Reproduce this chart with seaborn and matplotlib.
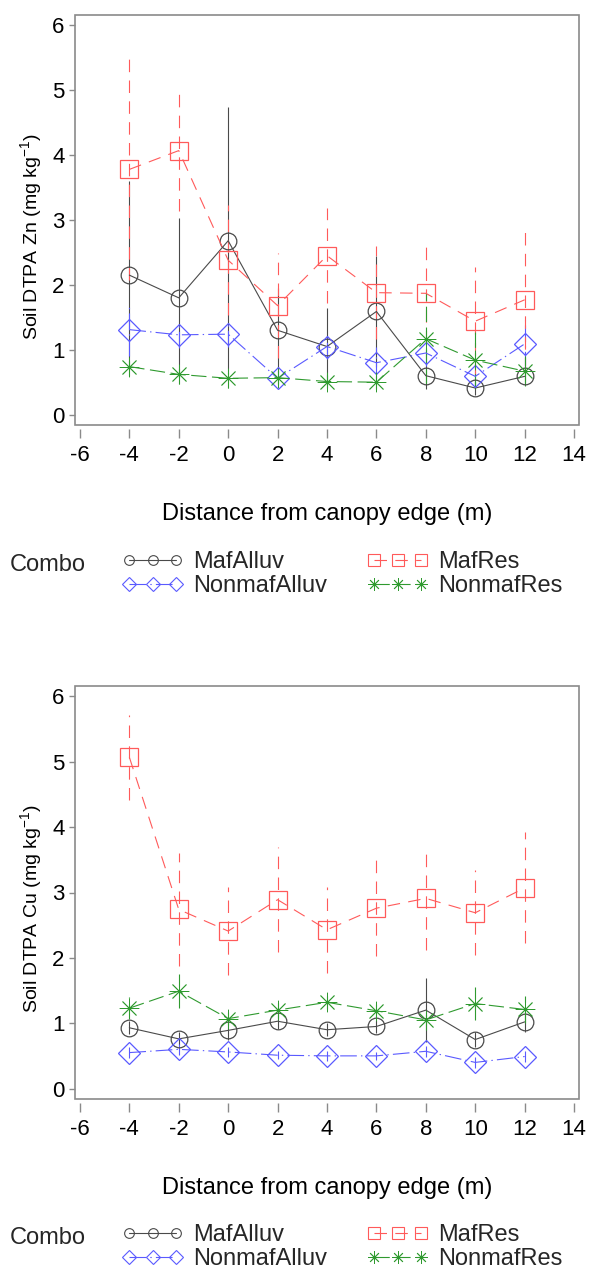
import numpy as np
import pandas as pd
import matplotlib
matplotlib.use("Agg")
import matplotlib.pyplot as plt
from matplotlib.lines import Line2D
from matplotlib.patches import Rectangle
import seaborn as sns

# ---- data -------------------------------------------------------------
distance = [-4, -2, 0, 2, 4, 6, 8, 10, 12]
combos = ["MafAlluv", "NonmafAlluv", "MafRes", "NonmafRes"]

# Soil DTPA Zn (mg kg-1): means and error half-widths
zn_maf_alluv = [2.15, 1.80, 2.68, 1.30, 1.05, 1.59, 0.60, 0.41, 0.59]
zn_maf_alluv_err = [1.45, 1.23, 2.06, 0.65, 0.60, 0.85, 0.20, 0.10, 0.12]
zn_nonmaf_alluv = [1.31, 1.23, 1.24, 0.56, 1.05, 0.80, 0.95, 0.59, 1.09]
zn_nonmaf_alluv_err = [0.40, 0.20, 0.20, 0.12, 0.20, 0.25, 0.20, 0.15, 0.37]
zn_maf_res = [3.78, 4.07, 2.38, 1.68, 2.45, 1.88, 1.87, 1.44, 1.77]
zn_maf_res_err = [1.71, 0.93, 0.85, 0.81, 0.73, 0.72, 0.76, 0.84, 1.08]
zn_nonmaf_res = [0.74, 0.62, 0.56, 0.57, 0.51, 0.50, 1.17, 0.84, 0.67]
zn_nonmaf_res_err = [0.15, 0.15, 0.15, 0.10, 0.10, 0.10, 0.70, 0.45, 0.23]

# Soil DTPA Cu (mg kg-1): means and error half-widths
cu_maf_alluv = [0.93, 0.76, 0.89, 1.03, 0.90, 0.95, 1.20, 0.75, 1.02]
cu_maf_alluv_err = [0.10, 0.10, 0.15, 0.12, 0.10, 0.10, 0.49, 0.12, 0.15]
cu_nonmaf_alluv = [0.55, 0.60, 0.56, 0.51, 0.50, 0.50, 0.57, 0.40, 0.49]
cu_nonmaf_alluv_err = [0.08, 0.08, 0.08, 0.06, 0.08, 0.06, 0.08, 0.08, 0.08]
cu_maf_res = [5.07, 2.74, 2.41, 2.89, 2.43, 2.76, 2.91, 2.69, 3.07]
cu_maf_res_err = [0.65, 0.87, 0.68, 0.80, 0.66, 0.73, 0.79, 0.65, 0.85]
cu_nonmaf_res = [1.23, 1.49, 1.07, 1.20, 1.32, 1.19, 1.05, 1.30, 1.21]
cu_nonmaf_res_err = [0.17, 0.26, 0.10, 0.12, 0.10, 0.10, 0.15, 0.25, 0.20]

x_ticks = [-6, -4, -2, 0, 2, 4, 6, 8, 10, 12, 14]
y_ticks = [0, 1, 2, 3, 4, 5, 6]
x_label = "Distance from canopy edge (m)"
zn_label = "Soil DTPA Zn (mg kg$^{-1}$)"
cu_label = "Soil DTPA Cu (mg kg$^{-1}$)"


def long_frame(means, errs):
    rows = []
    for combo, m, e in zip(combos, means, errs):
        for d, v, s in zip(distance, m, e):
            rows.append({"Distance": d, "Combo": combo, "Value": v, "Err": s})
    return pd.DataFrame(rows)


zn_df = long_frame([zn_maf_alluv, zn_nonmaf_alluv, zn_maf_res, zn_nonmaf_res],
                   [zn_maf_alluv_err, zn_nonmaf_alluv_err, zn_maf_res_err, zn_nonmaf_res_err])
cu_df = long_frame([cu_maf_alluv, cu_nonmaf_alluv, cu_maf_res, cu_nonmaf_res],
                   [cu_maf_alluv_err, cu_nonmaf_alluv_err, cu_maf_res_err, cu_nonmaf_res_err])

# ---- styles -----------------------------------------------------------
sns.set_theme(style="white")
plt.rcParams["font.family"] = ["Liberation Sans", "DejaVu Sans"]
plt.rcParams["mathtext.fontset"] = "custom"
plt.rcParams["mathtext.rm"] = "Liberation Sans"
plt.rcParams["mathtext.it"] = "Liberation Sans:italic"
plt.rcParams["lines.scale_dashes"] = False

colors = {"MafAlluv": "#4a4a4a", "NonmafAlluv": "#5a5aff",
          "MafRes": "#ff5a5a", "NonmafRes": "#2f9a2f"}
markers = {"MafAlluv": "o", "NonmafAlluv": "D", "MafRes": "s", "NonmafRes": (8, 2, 0)}
msizes = {"MafAlluv": 12, "NonmafAlluv": 11, "MafRes": 13, "NonmafRes": 14}
medge = {"MafAlluv": 0.9, "NonmafAlluv": 0.9, "MafRes": 0.9, "NonmafRes": 0.6}
leg_msizes = {"MafAlluv": 7, "NonmafAlluv": 7, "MafRes": 8, "NonmafRes": 9}
styles = {"MafAlluv": "-", "NonmafAlluv": (0, (12, 3, 1, 3)),
          "MafRes": (0, (9, 6)), "NonmafRes": (0, (11, 4))}
frame_grey = "#8a8a8a"

W, H = 589, 1273
fig = plt.figure(figsize=(W / 100, H / 100), dpi=100)


def panel(df, rect, ylabel):
    ax = fig.add_axes(rect)
    for combo in combos:
        sub = df[df["Combo"] == combo]
        ax.vlines(sub["Distance"], sub["Value"] - sub["Err"], sub["Value"] + sub["Err"],
                  colors=colors[combo], linestyles=[styles[combo]], linewidth=0.8, zorder=2)
    for combo in combos:
        sub = df[df["Combo"] == combo]
        sns.lineplot(data=sub, x="Distance", y="Value", ax=ax, color=colors[combo],
                     marker=markers[combo], markersize=msizes[combo],
                     markerfacecolor="none", markeredgecolor=colors[combo],
                     markeredgewidth=medge[combo], linewidth=0.8, linestyle=styles[combo],
                     estimator=None, errorbar=None, legend=False, zorder=3)
    ax.set_xlim(-6.2, 14.2)
    ax.set_ylim(-0.16, 6.16)
    ax.set_xticks(x_ticks)
    ax.set_yticks(y_ticks)
    ax.set_xticklabels([str(t) for t in x_ticks])
    ax.set_yticklabels([str(t) for t in y_ticks])
    for side in ["top", "right", "left", "bottom"]:
        ax.spines[side].set_visible(False)
    ax.spines["bottom"].set_position(("outward", 3))
    ax.add_patch(Rectangle((0, 0), 1, 1, transform=ax.transAxes, fill=False,
                           edgecolor=frame_grey, linewidth=1.2, clip_on=False, zorder=5))
    ax.tick_params(axis="x", bottom=True, direction="out", length=6.5, width=1.0,
                   color=frame_grey, labelsize=16, pad=5, labelcolor="black")
    ax.tick_params(axis="y", left=True, direction="out", length=4.5, width=1.0,
                   color=frame_grey, labelsize=16, pad=3, labelcolor="black")
    ax.set_xlabel(x_label, fontsize=17, color="black")
    ax.xaxis.set_label_coords(0.5, -0.19)
    ax.set_ylabel(ylabel, fontsize=14, color="black")
    ax.yaxis.set_label_coords(-0.062, 0.46)
    ax.grid(False)
    return ax


ax_zn = panel(zn_df, [75 / W, 1 - 425 / H, 504 / W, 410 / H], zn_label)
ax_cu = panel(cu_df, [75 / W, 1 - 1099 / H, 504 / W, 413 / H], cu_label)

handles = [Line2D([], [], color=colors[c], marker=markers[c], markersize=leg_msizes[c],
                  markerfacecolor="none", markeredgecolor=colors[c],
                  markeredgewidth=0.8 if c != "NonmafRes" else 0.6,
                  linewidth=0.8, linestyle=styles[c]) for c in combos]


def add_legend(row1_y):
    fig.text(10 / W, 1 - row1_y / H, "Combo", fontsize=17, ha="left", va="center")
    fig.legend(handles, combos, loc="upper left",
               bbox_to_anchor=(122 / W, 1 - (row1_y - 14) / H),
               ncol=2, numpoints=3, frameon=False, fontsize=17,
               handlelength=2.6, handletextpad=0.4, columnspacing=1.7,
               labelspacing=0.08, borderpad=0, borderaxespad=0)


add_legend(565)
add_legend(1238)

fig.savefig("out.png", dpi=100)
